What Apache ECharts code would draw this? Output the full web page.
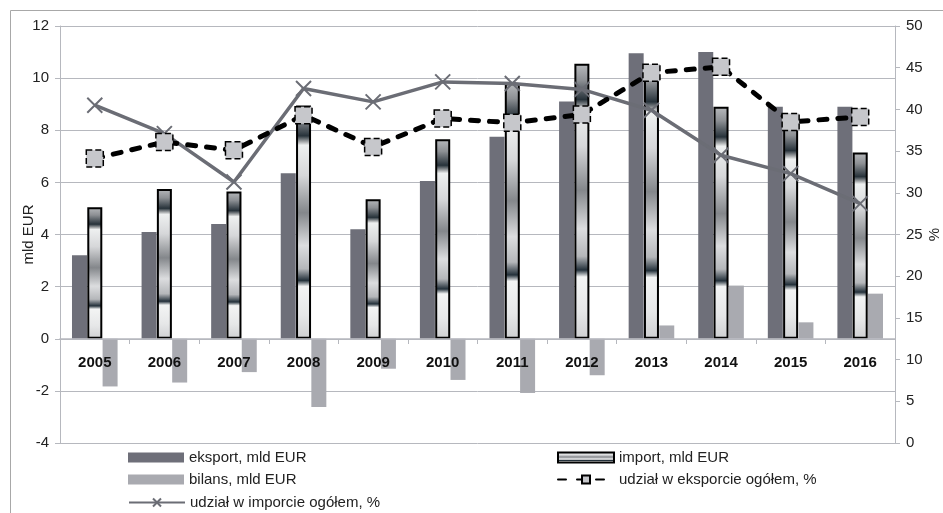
<!DOCTYPE html>
<html>
<head>
<meta charset="utf-8">
<script src="https://cdn.jsdelivr.net/npm/echarts@6.0.0/dist/echarts.min.js"></script>
<style>
  html, body { margin: 0; padding: 0; background: #fff; }
  #chart { width: 943px; height: 513px; }
</style>
</head>
<body>
<div id="chart"></div>
<script>
  // lata
  var years = ['2005', '2006', '2007', '2008', '2009', '2010', '2011', '2012', '2013', '2014', '2015', '2016']
  // mld EUR
  var eksport = [3.2, 4.1, 4.4, 6.35, 4.2, 6.05, 7.75, 9.1, 10.95, 11.0, 8.9, 8.9]
  var importVals = [5.05, 5.75, 5.65, 8.95, 5.35, 7.65, 9.8, 10.55, 10.45, 8.9, 8.3, 7.15]
  var bilans = [-1.83, -1.68, -1.28, -2.62, -1.15, -1.58, -2.08, -1.4, 0.51, 2.04, 0.63, 1.73]
  // %
  var udzialEksport = [34.1, 36.1, 35.1, 39.3, 35.5, 38.9, 38.4, 39.4, 44.4, 45.1, 38.5, 39.1]
  var udzialImport = [40.5, 37.1, 31.3, 42.5, 40.9, 43.3, 43.1, 42.4, 39.9, 34.5, 32.3, 28.7]

  var font = '"Liberation Sans", Arial, sans-serif'
  var gridColor = '#b6b8be'

  var metal = new echarts.graphic.LinearGradient(0, 0, 0, 1, [
    {offset: 0, color: '#b8babd'},
    {offset: 0.06, color: '#8d9094'},
    {offset: 0.13, color: '#27323a'},
    {offset: 0.155, color: '#a3a6a8'},
    {offset: 0.17, color: '#eef0f0'},
    {offset: 0.3, color: '#d6d7d9'},
    {offset: 0.46, color: '#84878b'},
    {offset: 0.6, color: '#dcdddf'},
    {offset: 0.7, color: '#b5b7ba'},
    {offset: 0.75, color: '#23303a'},
    {offset: 0.775, color: '#f3f4f4'},
    {offset: 0.9, color: '#e6e7e8'},
    {offset: 1, color: '#cfd0d2'}
  ])

  // jedna legenda na pozycję, żeby ułożyć je jak w oryginale
  function legendItem(name, left, top, icon) {
    var item = {name: name}
    if (icon) item.icon = icon
    return {
      left: left,
      top: top,
      itemWidth: 56,
      itemHeight: 10,
      textStyle: {fontSize: 15, color: '#222', fontFamily: font},
      data: [item]
    }
  }

  var myChart = echarts.init(document.getElementById('chart'))

  let option = {
    animation: false,
    textStyle: {fontFamily: font},
    graphic: [{
      type: 'rect',
      shape: {x: 10.5, y: 10.5, width: 1000, height: 1000},
      style: {fill: 'none', stroke: '#a8a8a8', lineWidth: 1},
      silent: true
    }],
    grid: {left: 60, right: 48, top: 26, bottom: 70, outerBoundsMode: 'none'},
    legend: [
      legendItem('eksport, mld EUR', 123, 445, 'rect'),
      legendItem('bilans, mld EUR', 123, 467, 'rect'),
      legendItem('udział w imporcie ogółem, %', 123, 490),
      legendItem('import, mld EUR', 552, 445, 'rect'),
      legendItem('udział w eksporcie ogółem, %', 552, 467)
    ],
    xAxis: {
      type: 'category',
      data: years,
      z: 10,
      offset: -104,
      axisLine: {show: true, onZero: false, lineStyle: {color: gridColor, width: 1.5}},
      axisTick: {show: true, length: 5, lineStyle: {color: gridColor}},
      axisLabel: {fontSize: 15, fontWeight: 'bold', color: '#111', margin: 16, fontFamily: font},
      splitLine: {show: false}
    },
    yAxis: [{
      type: 'value',
      min: -4,
      max: 12,
      interval: 2,
      name: 'mld EUR',
      nameLocation: 'middle',
      nameRotate: 90,
      nameGap: 24,
      nameMoveOverlap: false,
      nameTextStyle: {fontSize: 15, color: '#222', fontFamily: font},
      axisLine: {show: true, lineStyle: {color: gridColor}},
      axisTick: {show: true, length: 5, lineStyle: {color: gridColor}},
      axisLabel: {fontSize: 15, color: '#222', margin: 11, fontFamily: font},
      splitLine: {show: true, lineStyle: {color: gridColor, width: 1}}
    }, {
      type: 'value',
      min: 0,
      max: 50,
      interval: 5,
      name: '%',
      nameLocation: 'middle',
      nameRotate: 90,
      nameGap: 32,
      nameMoveOverlap: false,
      nameTextStyle: {fontSize: 15, color: '#222', fontFamily: font},
      axisLine: {show: true, lineStyle: {color: gridColor}},
      axisTick: {show: true, length: 5, lineStyle: {color: gridColor}},
      axisLabel: {fontSize: 15, color: '#222', margin: 11, fontFamily: font},
      splitLine: {show: false}
    }],
    series: [
      {
        name: 'eksport, mld EUR',
        type: 'bar',
        barWidth: 15,
        barGap: '2%',
        itemStyle: {color: '#6e6f79'},
        data: eksport
      },
      {
        name: 'import, mld EUR',
        type: 'bar',
        barWidth: 15,
        itemStyle: {color: metal, borderColor: '#000', borderWidth: 2},
        data: importVals
      },
      {
        name: 'bilans, mld EUR',
        type: 'bar',
        barWidth: 15,
        itemStyle: {color: '#a9aab0'},
        data: bilans
      },
      {
        name: 'udział w imporcie ogółem, %',
        type: 'line',
        yAxisIndex: 1,
        z: 5,
        symbol: 'path://M0,0L10,10M10,0L0,10',
        symbolSize: 15,
        lineStyle: {color: '#6b6d75', width: 3.5},
        itemStyle: {color: '#6b6d75', borderColor: '#6b6d75', borderWidth: 2},
        data: udzialImport
      },
      {
        name: 'udział w eksporcie ogółem, %',
        type: 'line',
        yAxisIndex: 1,
        z: 6,
        symbol: 'rect',
        symbolSize: 17,
        lineStyle: {color: '#000', width: 5, type: [8, 11], cap: 'round'},
        itemStyle: {color: '#c6c7cb', borderColor: '#000', borderWidth: 1.5, borderType: 'dashed'},
        data: udzialEksport
      }
    ]
  }
  myChart.setOption(option)
</script>
</body>
</html>
